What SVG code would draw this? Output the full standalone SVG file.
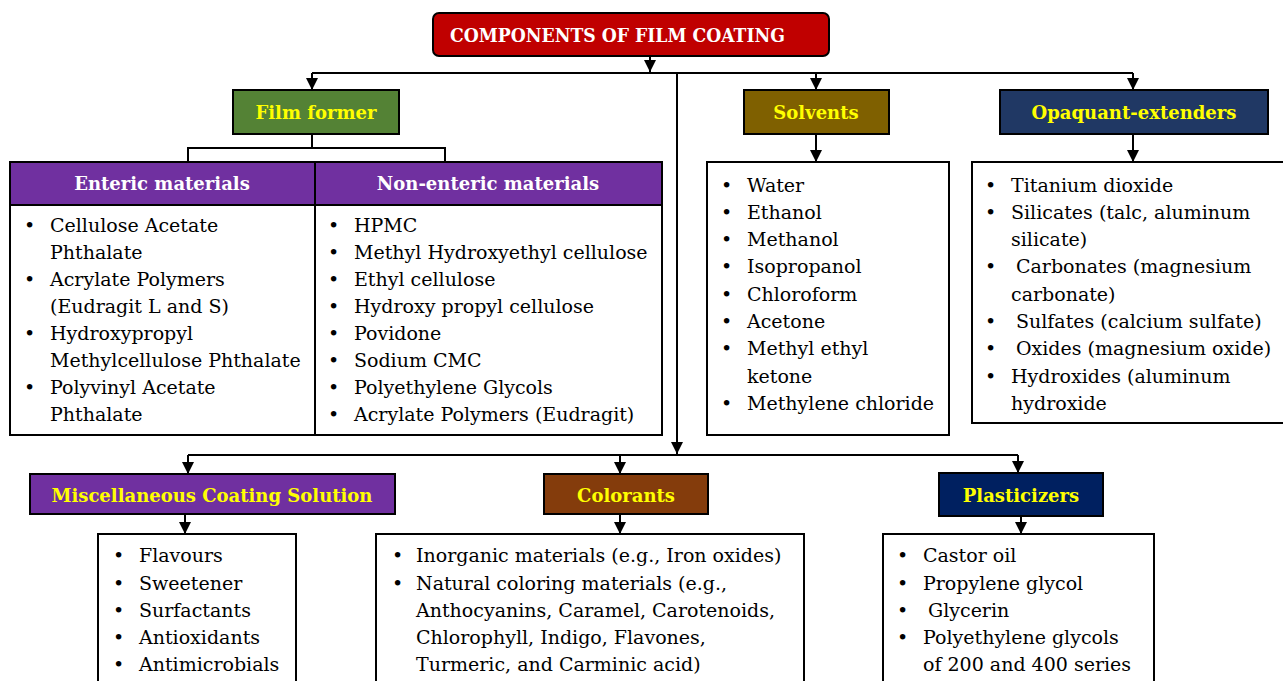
<svg xmlns="http://www.w3.org/2000/svg" width="1283" height="681" viewBox="0 0 1283 681">
<defs>
<marker id="ah" viewBox="0 0 12 12" refX="12" refY="6" markerWidth="12" markerHeight="12" markerUnits="userSpaceOnUse" orient="auto">
<path d="M0,0 L12,6 L0,12 z" fill="#000"/>
</marker>
<style>
.hd{stroke:#000;stroke-width:2}
.box{fill:#fff;stroke:#000;stroke-width:2}
.ht{font-family:"DejaVu Serif","Liberation Serif",serif;font-weight:bold;font-size:18px;fill:#FFFF00;text-anchor:middle}
.wt{fill:#fff}
.li{font-family:"DejaVu Serif","Liberation Serif",serif;font-size:19px;fill:#000}
.cn{fill:none;stroke:#000;stroke-width:2}
</style>
</defs>
<rect width="1283" height="681" fill="#fff"/>

<g id="connectors">
<path class="cn" d="M650,56 V72" marker-end="url(#ah)"/>
<path class="cn" d="M312,73 H1133"/>
<path class="cn" d="M312,73 V90" marker-end="url(#ah)"/>
<path class="cn" d="M816,73 V90" marker-end="url(#ah)"/>
<path class="cn" d="M1133,73 V90" marker-end="url(#ah)"/>
<path class="cn" d="M677,73 V454" marker-end="url(#ah)"/>
<path class="cn" d="M312,134 V148 M188,162 V148 H445 V162"/>
<path class="cn" d="M816,134 V162" marker-end="url(#ah)"/>
<path class="cn" d="M1133,134 V162" marker-end="url(#ah)"/>
<path class="cn" d="M188,455 H1018"/>
<path class="cn" d="M188,455 V474" marker-end="url(#ah)"/>
<path class="cn" d="M620,455 V474" marker-end="url(#ah)"/>
<path class="cn" d="M1018,455 V473" marker-end="url(#ah)"/>
<path class="cn" d="M185,514 V534" marker-end="url(#ah)"/>
<path class="cn" d="M620,514 V534" marker-end="url(#ah)"/>
<path class="cn" d="M1021,516 V534" marker-end="url(#ah)"/>
</g>

<g id="title">
<rect x="433" y="13" width="396" height="43" rx="6" fill="#C00000" class="hd"/>
<text x="450" y="42" class="ht wt" style="text-anchor:start;font-size:19px" textLength="335" lengthAdjust="spacingAndGlyphs">COMPONENTS OF FILM COATING</text>
</g>

<g id="film-former">
<rect x="233" y="90" width="166" height="44" fill="#548235" class="hd"/>
<text x="316" y="119" class="ht">Film former</text>
</g>

<g id="film-former-table">
<rect x="10" y="162" width="652" height="273" class="box"/>
<rect x="10" y="162" width="652" height="43" fill="#7030A0" class="hd"/>
<line x1="315" y1="162" x2="315" y2="435" class="hd"/>
<text x="162" y="190" class="ht wt">Enteric materials</text>
<text x="488" y="190" class="ht wt">Non-enteric materials</text>
<g class="li">
<text x="24" y="232">•</text><text x="50" y="232">Cellulose Acetate</text>
<text x="50" y="259">Phthalate</text>
<text x="24" y="286">•</text><text x="50" y="286">Acrylate Polymers</text>
<text x="50" y="313">(Eudragit L and S)</text>
<text x="24" y="340">•</text><text x="50" y="340">Hydroxypropyl</text>
<text x="50" y="367">Methylcellulose Phthalate</text>
<text x="24" y="394">•</text><text x="50" y="394">Polyvinyl Acetate</text>
<text x="50" y="421">Phthalate</text>
<text x="328" y="232">•</text><text x="354" y="232">HPMC</text>
<text x="328" y="259">•</text><text x="354" y="259">Methyl Hydroxyethyl cellulose</text>
<text x="328" y="286">•</text><text x="354" y="286">Ethyl cellulose</text>
<text x="328" y="313">•</text><text x="354" y="313">Hydroxy propyl cellulose</text>
<text x="328" y="340">•</text><text x="354" y="340">Povidone</text>
<text x="328" y="367">•</text><text x="354" y="367">Sodium CMC</text>
<text x="328" y="394">•</text><text x="354" y="394">Polyethylene Glycols</text>
<text x="328" y="421">•</text><text x="354" y="421">Acrylate Polymers (Eudragit)</text>
</g>
</g>

<g id="solvents">
<rect x="744" y="90" width="145" height="44" fill="#7F6000" class="hd"/>
<text x="816" y="119" class="ht">Solvents</text>
</g>
<g id="solvents-list">
<rect x="707" y="162" width="242" height="273" class="box"/>
<g class="li">
<text x="721" y="192">•</text><text x="747" y="192">Water</text>
<text x="721" y="219">•</text><text x="747" y="219">Ethanol</text>
<text x="721" y="246">•</text><text x="747" y="246">Methanol</text>
<text x="721" y="273">•</text><text x="747" y="273">Isopropanol</text>
<text x="721" y="301">•</text><text x="747" y="301">Chloroform</text>
<text x="721" y="328">•</text><text x="747" y="328">Acetone</text>
<text x="721" y="355">•</text><text x="747" y="355">Methyl ethyl</text>
<text x="747" y="383">ketone</text>
<text x="721" y="410">•</text><text x="747" y="410">Methylene chloride</text>
</g>
</g>

<g id="opaquant">
<rect x="1000" y="90" width="268" height="44" fill="#203864" class="hd"/>
<text x="1134" y="119" class="ht">Opaquant-extenders</text>
</g>
<g id="opaquant-list">
<rect x="972" y="162" width="312" height="261" class="box"/>
<g class="li">
<text x="985" y="192">•</text><text x="1011" y="192">Titanium dioxide</text>
<text x="985" y="219">•</text><text x="1011" y="219">Silicates (talc, aluminum</text>
<text x="1011" y="246">silicate)</text>
<text x="985" y="273">•</text><text x="1016" y="273">Carbonates (magnesium</text>
<text x="1011" y="301">carbonate)</text>
<text x="985" y="328">•</text><text x="1016" y="328">Sulfates (calcium sulfate)</text>
<text x="985" y="355">•</text><text x="1016" y="355">Oxides (magnesium oxide)</text>
<text x="985" y="383">•</text><text x="1011" y="383">Hydroxides (aluminum</text>
<text x="1011" y="410">hydroxide</text>
</g>
</g>

<g id="misc">
<rect x="30" y="474" width="365" height="40" fill="#7030A0" class="hd"/>
<text x="212" y="502" class="ht">Miscellaneous Coating Solution</text>
</g>
<g id="misc-list">
<rect x="98" y="534" width="198" height="160" class="box"/>
<g class="li">
<text x="113" y="562">•</text><text x="139" y="562">Flavours</text>
<text x="113" y="590">•</text><text x="139" y="590">Sweetener</text>
<text x="113" y="617">•</text><text x="139" y="617">Surfactants</text>
<text x="113" y="644">•</text><text x="139" y="644">Antioxidants</text>
<text x="113" y="671">•</text><text x="139" y="671">Antimicrobials</text>
</g>
</g>

<g id="colorants">
<rect x="544" y="474" width="164" height="40" fill="#843C0C" class="hd"/>
<text x="626" y="502" class="ht">Colorants</text>
</g>
<g id="colorants-list">
<rect x="376" y="534" width="428" height="160" class="box"/>
<g class="li">
<text x="392" y="562">•</text><text x="416" y="562">Inorganic materials (e.g., Iron oxides)</text>
<text x="392" y="590">•</text><text x="416" y="590">Natural coloring materials (e.g.,</text>
<text x="416" y="617">Anthocyanins, Caramel, Carotenoids,</text>
<text x="416" y="644">Chlorophyll, Indigo, Flavones,</text>
<text x="416" y="671">Turmeric, and Carminic acid)</text>
</g>
</g>

<g id="plasticizers">
<rect x="939" y="473" width="164" height="43" fill="#002060" class="hd"/>
<text x="1021" y="502" class="ht">Plasticizers</text>
</g>
<g id="plasticizers-list">
<rect x="883" y="534" width="271" height="160" class="box"/>
<g class="li">
<text x="897" y="562">•</text><text x="923" y="562">Castor oil</text>
<text x="897" y="590">•</text><text x="923" y="590">Propylene glycol</text>
<text x="897" y="617">•</text><text x="928" y="617">Glycerin</text>
<text x="897" y="644">•</text><text x="923" y="644">Polyethylene glycols</text>
<text x="923" y="671">of 200 and 400 series</text>
</g>
</g>
</svg>
